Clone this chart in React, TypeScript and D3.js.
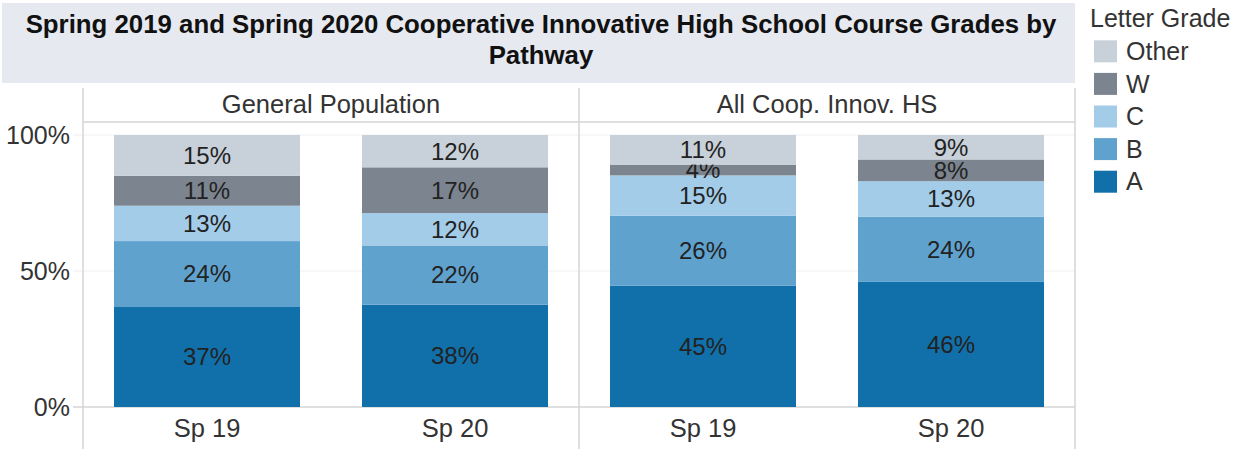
import React, { useEffect, useRef } from 'react';
import * as d3 from 'd3';

const panels = ['General Population', 'All Coop. Innov. HS'];
const terms = ['Sp 19', 'Sp 20'];
const grades = ['A', 'B', 'C', 'W', 'Other'];
const legendOrder = ['Other', 'W', 'C', 'B', 'A'];
const gradeColors = ['#1170aa', '#5fa2ce', '#a3cce9', '#7b848f', '#c8d0d9'];

// percent by grade: A, B, C, W, Other
const genPop = [
  [37, 24, 13, 11, 15],
  [38, 22, 12, 17, 12],
];
const coop = [
  [45, 26, 15, 4, 11],
  [46, 24, 13, 8, 9],
];
const yTicks = [0, 0.5, 1];

const App: React.FC = () => {
  const ref = useRef<SVGSVGElement>(null);
  const W = 1247;
  const H = 449;

  useEffect(() => {
    if (!ref.current) return;
    const svg = d3.select(ref.current);
    svg.selectAll('*').remove();
    const font = "'Liberation Sans', Arial, sans-serif";

    const left = 83;
    const right = 1075;
    const top = 88;
    const headerBottom = 122;

    // title box
    svg.append('rect').attr('x', 2).attr('y', 3).attr('width', right - 2).attr('height', 80).attr('fill', '#e6e9f0');
    const title = svg.append('text').attr('text-anchor', 'middle').attr('font-family', font)
      .attr('font-weight', 'bold').attr('font-size', 25.8).attr('fill', '#111');
    title.append('tspan').attr('x', 541).attr('y', 33).text('Spring 2019 and Spring 2020 Cooperative Innovative High School Course Grades by');
    title.append('tspan').attr('x', 541).attr('y', 64).text('Pathway');

    const y = d3.scaleLinear().domain([0, 1]).range([407, 135]);
    const px = d3.scaleBand().domain(panels).range([left, right]);

    // gridlines
    yTicks.forEach((t) => {
      svg.append('line').attr('x1', 73).attr('x2', right).attr('y1', y(t)).attr('y2', y(t))
        .attr('stroke', t === 0 ? '#d4d4d4' : '#efefef').attr('stroke-width', t === 0 ? 1.5 : 1);
    });

    // y tick labels
    svg.append('g').selectAll('text').data(yTicks).join('text')
      .attr('x', 70).attr('y', (d) => y(d)).attr('dy', '0.35em').attr('text-anchor', 'end')
      .attr('font-family', font).attr('font-size', 25).attr('fill', '#333')
      .text((d) => d3.format('.0%')(d));

    // frame lines
    svg.append('line').attr('x1', left).attr('x2', right).attr('y1', headerBottom).attr('y2', headerBottom)
      .attr('stroke', '#d4d4d4').attr('stroke-width', 1.5);
    [left, px('All Coop. Innov. HS')!, right].forEach((x) => {
      svg.append('line').attr('x1', x).attr('x2', x).attr('y1', top).attr('y2', H)
        .attr('stroke', '#d4d4d4').attr('stroke-width', 1.5);
    });

    const stack = d3.stack<number[]>()
      .keys(grades.map((_, i) => String(i)))
      .value((d, k) => d[+k])
      .offset(d3.stackOffsetExpand);

    [genPop, coop].forEach((rows, pi) => {
      const p0 = px(panels[pi])!;
      const x = d3.scaleBand().domain(terms).range([p0, p0 + px.bandwidth()]).paddingInner(0.25).paddingOuter(0.125);
      const g = svg.append('g');

      g.append('text').attr('x', p0 + px.bandwidth() / 2).attr('y', 113)
        .attr('text-anchor', 'middle').attr('font-family', font).attr('font-size', 25.5).attr('fill', '#333')
        .text(panels[pi]);

      const series = stack(rows);
      series.forEach((s, gi) => {
        s.forEach((d, ti) => {
          g.append('rect').attr('x', x(terms[ti])!).attr('width', x.bandwidth())
            .attr('y', y(d[1])).attr('height', y(d[0]) - y(d[1])).attr('fill', gradeColors[gi]);
          g.append('text').attr('x', x(terms[ti])! + x.bandwidth() / 2)
            .attr('y', (y(d[0]) + y(d[1])) / 2).attr('dy', '0.35em').attr('text-anchor', 'middle')
            .attr('font-family', font).attr('font-size', 24).attr('fill', '#222')
            .text(rows[ti][gi] + '%');
        });
      });

      g.selectAll('.xl').data(terms).join('text')
        .attr('x', (d) => x(d)! + x.bandwidth() / 2).attr('y', 428).attr('dy', '0.35em')
        .attr('text-anchor', 'middle').attr('font-family', font).attr('font-size', 25.5).attr('fill', '#333')
        .text((d) => d);
    });

    // legend
    svg.append('text').attr('x', 1090).attr('y', 18).attr('dy', '0.35em').attr('font-family', font)
      .attr('font-size', 25).attr('fill', '#333').text('Letter Grade');
    const ly = d3.scaleBand().domain(legendOrder).range([35, 198]);
    legendOrder.forEach((k) => {
      const c = gradeColors[grades.indexOf(k)];
      const cy = ly(k)! + ly.bandwidth() / 2;
      svg.append('rect').attr('x', 1094).attr('y', cy - 11).attr('width', 23).attr('height', 22).attr('fill', c);
      svg.append('text').attr('x', 1126).attr('y', cy).attr('dy', '0.35em').attr('font-family', font)
        .attr('font-size', 25).attr('fill', '#333').text(k);
    });
  }, []);

  return <svg ref={ref} width={W} height={H} style={{ position: 'absolute', left: 0, top: 0, background: '#fff' }} />;
};

export default App;
